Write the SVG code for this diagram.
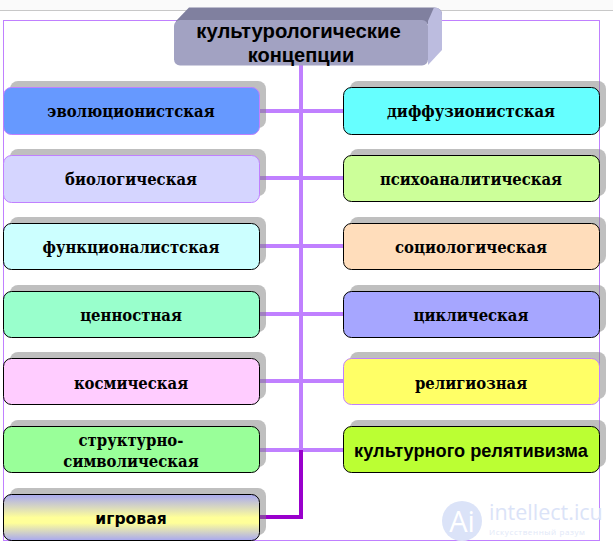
<svg xmlns="http://www.w3.org/2000/svg" width="613" height="548" viewBox="0 0 613 548">
<style>
.sh{fill:#808080;fill-opacity:.5}
.n{stroke:#000;stroke-width:1}
.t{font-family:"DejaVu Serif","Liberation Serif",serif;font-stretch:condensed;font-weight:700;font-size:16.500px;text-anchor:middle;fill:#000}
.s{font-family:"Liberation Sans",Arial,sans-serif;font-weight:700;text-anchor:middle;fill:#000}
.c{fill:none;stroke:#c080ff;stroke-width:4}
</style>
<defs>
<linearGradient id="g" x1="0" y1="0" x2="0" y2="1"><stop offset="0" stop-color="#a8a8f0"/><stop offset=".5" stop-color="#ffff99"/><stop offset=".62" stop-color="#ffff99"/><stop offset="1" stop-color="#a8a8f0"/></linearGradient>
</defs>
<rect width="613" height="10" fill="#fafafa"/>
<path d="M0 10.500H613" stroke="#c8c8c8" fill="none"/>
<rect x="3.500" y="20.500" width="596" height="520" fill="none" stroke="#c080ff"/>
<g id="connectors">
<path class="c" d="M301 65V450M260 111H344M260 178H344M260 246H344M260 314H344M260 381H344M260 450H344"/>
<path d="M260 517H301V450" fill="none" stroke="#9900cc" stroke-width="4"/>
</g>
<g id="title">
<path d="M176 21L189 7.500H434Q442 7.500 442 15V24H176Z" fill="#80809f"/>
<path d="M428 21L434 7.500Q442 7.500 442 15V50L428 65Z" fill="#bcbcdf"/>
<rect x="174" y="20" width="254" height="45.500" rx="6" fill="#a2a2c2"/>
<text class="s" x="298.500" y="38" font-size="20.300">культурологические</text>
<text class="s" x="301" y="62" font-size="20">концепции</text>
</g>
<g id="n1"><rect class="sh" x="10" y="81" width="256" height="47" rx="8"/><rect x="3.500" y="87.500" width="256" height="47" rx="8" fill="#6699ff" stroke="#c080ff"/><text class="t" x="131" y="117">эволюционистская</text></g>
<g id="n2"><rect class="sh" x="10" y="149" width="256" height="47" rx="8"/><rect x="3.500" y="155.500" width="256" height="47" rx="8" fill="#d5d5ff" stroke="#c080ff"/><text class="t" x="131" y="185">биологическая</text></g>
<g id="n3"><rect class="sh" x="10" y="217" width="256" height="47" rx="8"/><rect class="n" x="3.500" y="223.500" width="256" height="46" rx="8" fill="#ccffff"/><text class="t" x="131" y="253">функционалистская</text></g>
<g id="n4"><rect class="sh" x="10" y="285" width="256" height="47" rx="8"/><rect class="n" x="3.500" y="291.500" width="256" height="46" rx="8" fill="#99ffcc"/><text class="t" x="131" y="321">ценностная</text></g>
<g id="n5"><rect class="sh" x="10" y="352" width="256" height="47" rx="8"/><rect class="n" x="3.500" y="358.500" width="256" height="46" rx="8" fill="#ffccff"/><text class="t" x="131" y="389">космическая</text></g>
<g id="n6"><rect class="sh" x="10" y="420" width="256" height="47" rx="8"/><rect class="n" x="3.500" y="426.500" width="256" height="46" rx="8" fill="#99ff99"/><text class="t" x="131" y="446">структурно-</text><text class="t" x="131" y="467">символическая</text></g>
<g id="n7"><rect class="sh" x="10" y="488" width="256" height="47" rx="8"/><rect class="n" x="3.500" y="494.500" width="256" height="46" rx="8" fill="url(#g)"/><text x="131" y="524" font-family="DejaVu Sans,sans-serif" font-weight="700" font-size="15.600" text-anchor="middle">игровая</text></g>
<g id="n8"><rect class="sh" x="350" y="81" width="256" height="47" rx="8"/><rect class="n" x="343.500" y="87.500" width="256" height="47" rx="8" fill="#66ffff"/><text class="t" x="471" y="117">диффузионистская</text></g>
<g id="n9"><rect class="sh" x="350" y="149" width="256" height="47" rx="8"/><rect class="n" x="343.500" y="155.500" width="256" height="46" rx="8" fill="#ccff99"/><text class="t" x="471" y="185">психоаналитическая</text></g>
<g id="n10"><rect class="sh" x="350" y="217" width="256" height="47" rx="8"/><rect class="n" x="343.500" y="223.500" width="256" height="46" rx="8" fill="#ffddbb"/><text class="t" x="471" y="253">социологическая</text></g>
<g id="n11"><rect class="sh" x="350" y="285" width="256" height="47" rx="8"/><rect class="n" x="343.500" y="291.500" width="256" height="46" rx="8" fill="#a6a6ff"/><text class="t" x="471" y="321">циклическая</text></g>
<g id="n12"><rect class="sh" x="350" y="352" width="256" height="47" rx="8"/><rect x="343.500" y="358.500" width="256" height="46" rx="8" fill="#ffff66" stroke="#c080ff"/><text class="t" x="471" y="389">религиозная</text></g>
<g id="n13"><rect class="sh" x="350" y="420" width="256" height="47" rx="8"/><rect class="n" x="343.500" y="426.500" width="256" height="46" rx="8" fill="#bbff33"/><text class="s" x="471" y="457" font-size="18.200">культурного релятивизма</text></g>
<g id="watermark">
<circle cx="462" cy="521" r="20" fill="#dbe3f8"/>
<text x="462" y="532" font-family="Open Sans,sans-serif" font-size="29" fill="#fff" text-anchor="middle">Ai</text>
<text x="489" y="520" font-family="Open Sans,sans-serif" font-size="21.500" fill="#dbe3f8">intellect.icu</text>
<text x="489" y="535" font-family="Open Sans,sans-serif" font-size="8" letter-spacing=".6" fill="#e2e8f8">Искусственный разум</text>
</g>
</svg>
